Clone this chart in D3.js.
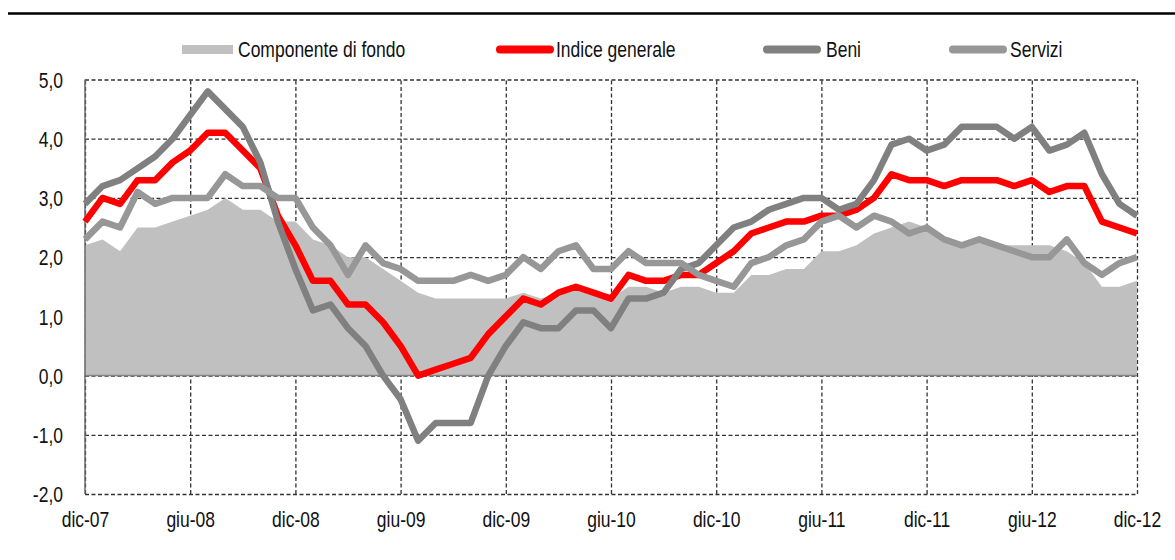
<!DOCTYPE html>
<html>
<head>
<meta charset="utf-8">
<script src="https://cdn.jsdelivr.net/npm/d3@7"></script>
<style>
  body { margin: 0; background: #fff; }
  svg { display: block; }
  text { font-family: "Liberation Sans", Arial, sans-serif; font-size: 17.5px; fill: #111; }
</style>
</head>
<body>
<svg width="1175" height="560"></svg>
<script>
// months, dic-07 .. dic-12
var mesi = ["dic-07","gen-08","feb-08","mar-08","apr-08","mag-08","giu-08","lug-08","ago-08","set-08","ott-08","nov-08",
  "dic-08","gen-09","feb-09","mar-09","apr-09","mag-09","giu-09","lug-09","ago-09","set-09","ott-09","nov-09",
  "dic-09","gen-10","feb-10","mar-10","apr-10","mag-10","giu-10","lug-10","ago-10","set-10","ott-10","nov-10",
  "dic-10","gen-11","feb-11","mar-11","apr-11","mag-11","giu-11","lug-11","ago-11","set-11","ott-11","nov-11",
  "dic-11","gen-12","feb-12","mar-12","apr-12","mag-12","giu-12","lug-12","ago-12","set-12","ott-12","nov-12","dic-12"];
var tickMesi = ["dic-07","giu-08","dic-08","giu-09","dic-09","giu-10","dic-10","giu-11","dic-11","giu-12","dic-12"];
var yTicks = [-2, -1, 0, 1, 2, 3, 4, 5];

var fondo = [2.2,2.3,2.1,2.5,2.5,2.6,2.7,2.8,3.0,2.8,2.8,
  2.6,2.6,2.3,2.2,2.0,2.0,1.8,1.6,1.4,1.3,
  1.3,1.3,1.3,1.3,1.4,1.3,1.4,1.5,1.4,1.3,
  1.5,1.5,1.4,1.5,1.5,1.4,1.4,1.7,1.7,1.8,
  1.8,2.1,2.1,2.2,2.4,2.5,2.6,2.5,2.3,2.2,
  2.3,2.2,2.2,2.2,2.2,2.1,1.9,1.5,1.5,1.6];
var indice = [2.6,3.0,2.9,3.3,3.3,3.6,3.8,4.1,4.1,3.8,3.5,
  2.7,2.2,1.6,1.6,1.2,1.2,0.9,0.5,0.0,0.1,
  0.2,0.3,0.7,1.0,1.3,1.2,1.4,1.5,1.4,1.3,
  1.7,1.6,1.6,1.7,1.7,1.9,2.1,2.4,2.5,2.6,
  2.6,2.7,2.7,2.8,3.0,3.4,3.3,3.3,3.2,3.3,
  3.3,3.3,3.2,3.3,3.1,3.2,3.2,2.6,2.5,2.4];
var beni = [2.9,3.2,3.3,3.5,3.7,4.0,4.4,4.8,4.5,4.2,3.6,
  2.6,1.8,1.1,1.2,0.8,0.5,0.0,-0.4,-1.1,-0.8,
  -0.8,-0.8,0.0,0.5,0.9,0.8,0.8,1.1,1.1,0.8,
  1.3,1.3,1.4,1.8,1.9,2.2,2.5,2.6,2.8,2.9,
  3.0,3.0,2.8,2.9,3.3,3.9,4.0,3.8,3.9,4.2,
  4.2,4.2,4.0,4.2,3.8,3.9,4.1,3.4,2.9,2.7];
var servizi = [2.3,2.6,2.5,3.1,2.9,3.0,3.0,3.0,3.4,3.2,3.2,
  3.0,3.0,2.5,2.2,1.7,2.2,1.9,1.8,1.6,1.6,
  1.6,1.7,1.6,1.7,2.0,1.8,2.1,2.2,1.8,1.8,
  2.1,1.9,1.9,1.9,1.7,1.6,1.5,1.9,2.0,2.2,
  2.3,2.6,2.7,2.5,2.7,2.6,2.4,2.5,2.3,2.2,
  2.3,2.2,2.1,2.0,2.0,2.3,1.9,1.7,1.9,2.0];

var nomi = ["Componente di fondo", "Indice generale", "Beni", "Servizi"];
var colori = ["#c0c0c0", "#ff0000", "#808080", "#979797"];

var svg = d3.select("svg");
var margin = {top: 79.5, right: 38, bottom: 66, left: 85};
var width = 1175 - margin.left - margin.right;
var height = 560 - margin.top - margin.bottom;
var stretch = "scale(1,1.25)"; // the original text is tall and narrow

// black rule on top
svg.append("line")
  .attr("x1", 8).attr("x2", 1175).attr("y1", 13.5).attr("y2", 13.5)
  .attr("stroke", "#000").attr("stroke-width", 2.5);

var plot = svg.append("g").attr("transform", "translate(" + margin.left + "," + margin.top + ")");

var x = d3.scalePoint().domain(mesi).range([0, width]);
var y = d3.scaleLinear().domain([-2, 5]).range([height, 0]);

// horizontal grid + y labels
var yAxis = d3.axisLeft(y).tickValues(yTicks).tickSize(-width).tickPadding(22)
  .tickFormat(function(d) { return d3.format(".1f")(d).replace(".", ",").replace("\u2212", "-"); });
var yGroup = plot.append("g").call(yAxis);
yGroup.select(".domain").remove();
yGroup.selectAll("line").attr("stroke", "#333").attr("stroke-width", 1.3).attr("stroke-dasharray", "4,2.5");
yGroup.selectAll("text").attr("font-size", null).attr("font-family", null)
  .attr("dy", 0).attr("y", 0)
  .attr("transform", "translate(0,7.8) " + stretch);

// vertical grid + x labels
var xAxis = d3.axisBottom(x).tickValues(tickMesi).tickSize(-height);
var xGroup = plot.append("g").attr("transform", "translate(0," + height + ")").call(xAxis);
xGroup.select(".domain").remove();
xGroup.selectAll("line").attr("stroke", "#333").attr("stroke-width", 1.3).attr("stroke-dasharray", "4,2.5");
xGroup.selectAll("text").attr("font-size", null).attr("font-family", null)
  .attr("dy", 0).attr("y", 0)
  .attr("transform", "translate(0,33) " + stretch);

// area: componente di fondo
var area = d3.area()
  .x(function(d, i) { return x(mesi[i]); })
  .y0(y(0))
  .y1(function(d) { return y(d); });
plot.append("path").datum(fondo).attr("d", area).attr("fill", colori[0]);

// zero line and left axis
plot.append("line").attr("x1", 0).attr("x2", width).attr("y1", y(0)).attr("y2", y(0))
  .attr("stroke", "#858585").attr("stroke-width", 1.5);
plot.append("line").attr("x1", 0).attr("x2", 0).attr("y1", 0).attr("y2", height)
  .attr("stroke", "#6a6a6a").attr("stroke-width", 1.5);

// lines
var line = d3.line()
  .x(function(d, i) { return x(mesi[i]); })
  .y(function(d) { return y(d); });
[indice, beni, servizi].forEach(function(serie, k) {
  plot.append("path").datum(serie).attr("d", line)
    .attr("fill", "none")
    .attr("stroke", colori[k + 1])
    .attr("stroke-width", 6.5)
    .attr("stroke-linejoin", "round");
});

// legend
var legendX = [182, 496, 763, 949];
var textX = [56, 60, 63, 61];
var legend = svg.append("g");
nomi.forEach(function(nome, i) {
  var g = legend.append("g").attr("transform", "translate(" + legendX[i] + ",49.5)");
  if (i == 0) {
    g.append("rect").attr("x", 0).attr("y", -4.5).attr("width", 51).attr("height", 9).attr("fill", colori[0]);
  } else {
    g.append("line").attr("x1", 4).attr("x2", 54).attr("y1", 0).attr("y2", 0)
      .attr("stroke", colori[i]).attr("stroke-width", 8).attr("stroke-linecap", "round");
  }
  g.append("text").attr("transform", "translate(" + textX[i] + ",7.8) " + stretch)
    .text(nome);
});
</script>
</body>
</html>
